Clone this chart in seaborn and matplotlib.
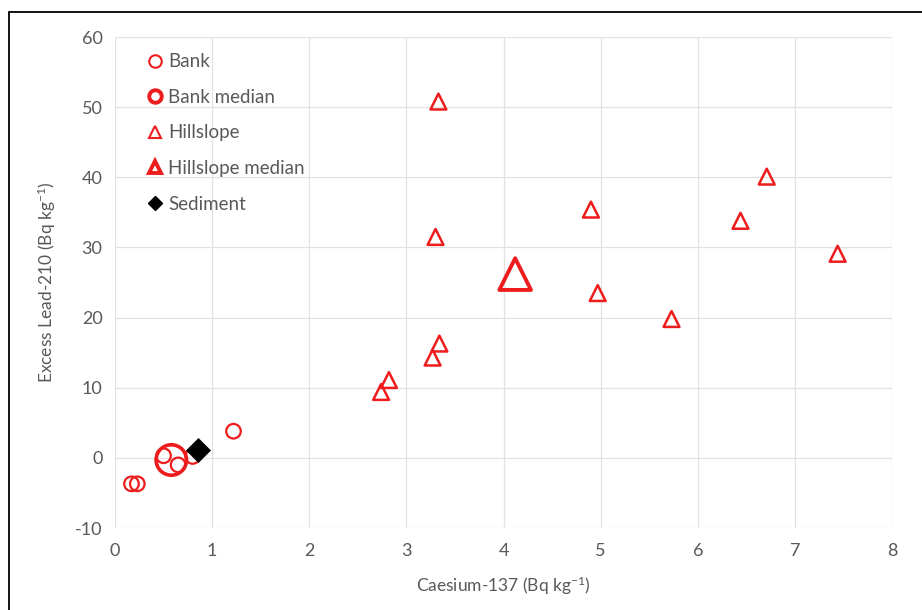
import matplotlib
matplotlib.use("Agg")
import matplotlib.pyplot as plt
from matplotlib.lines import Line2D
import seaborn as sns
import pandas as pd

# Bank soil samples (Cs-137, excess Pb-210)
bank_cs = [0.17, 0.23, 0.50, 0.65, 0.80, 1.22]
bank_pb = [-3.7, -3.7, 0.3, -1.0, 0.2, 3.8]
bank_median_cs = [0.58]
bank_median_pb = [-0.3]

# Hillslope soil samples
hill_cs = [3.33, 3.30, 4.90, 6.71, 6.44, 4.97, 7.44, 5.73, 3.34, 3.27, 2.82, 2.74]
hill_pb = [50.8, 31.5, 35.4, 40.1, 33.8, 23.5, 29.1, 19.8, 16.3, 14.3, 11.1, 9.4]
hill_median_cs = [4.12]
hill_median_pb = [26.2]

# Suspended sediment
sed_cs = [0.855]
sed_pb = [1.15]

x_ticks = [0, 1, 2, 3, 4, 5, 6, 7, 8]
y_ticks = [-10, 0, 10, 20, 30, 40, 50, 60]

RED = "#ee1c1c"
GREY = "#595959"

sns.set_theme(style="whitegrid")
plt.rcParams["font.family"] = ["Lato", "DejaVu Sans"]
plt.rcParams["mathtext.fontset"] = "custom"
plt.rcParams["mathtext.rm"] = "Lato"
plt.rcParams["mathtext.it"] = "Lato:italic"
plt.rcParams["axes.unicode_minus"] = False

fig = plt.figure(figsize=(9.22, 6.10), dpi=100)
ax = fig.add_axes([0.1247, 0.1344, 0.9675 - 0.1247, 0.9393 - 0.1344])

bank = pd.DataFrame({"cs": bank_cs, "pb": bank_pb})
bank_med = pd.DataFrame({"cs": bank_median_cs, "pb": bank_median_pb})
hill = pd.DataFrame({"cs": hill_cs, "pb": hill_pb})
hill_med = pd.DataFrame({"cs": hill_median_cs, "pb": hill_median_pb})
sed = pd.DataFrame({"cs": sed_cs, "pb": sed_pb})

sns.scatterplot(data=bank, x="cs", y="pb", marker="o", s=110,
                facecolors="none", edgecolors=RED, linewidths=1.6, ax=ax, zorder=3)
sns.scatterplot(data=bank_med, x="cs", y="pb", marker="o", s=480,
                facecolors="none", edgecolors=RED, linewidths=2.6, ax=ax, zorder=3)
sns.scatterplot(data=hill, x="cs", y="pb", marker="^", s=130,
                facecolors="none", edgecolors=RED, linewidths=1.8, ax=ax, zorder=3)
sns.scatterplot(data=hill_med, x="cs", y="pb", marker="^", s=520,
                facecolors="none", edgecolors=RED, linewidths=2.8, ax=ax, zorder=3)
sns.scatterplot(data=sed, x="cs", y="pb", marker="D", s=150,
                color="black", edgecolor="black", linewidth=0.5, ax=ax, zorder=4)

ax.set_xlim(0, 8)
ax.set_ylim(-10, 60)
ax.set_xticks(x_ticks)
ax.set_yticks(y_ticks)
ax.grid(True, color="#e2e2e2", linewidth=0.9)
for s in ax.spines.values():
    s.set_visible(False)
ax.tick_params(axis="both", length=0, labelsize=13, colors=GREY)
ax.tick_params(axis="x", pad=11)
ax.tick_params(axis="y", pad=9)

ax.set_xlabel(r"Caesium-137 (Bq kg$^{\mathregular{-1}}$)", fontsize=12.5, color=GREY, labelpad=11)
ax.set_ylabel(r"Excess Lead-210 (Bq kg$^{\mathregular{-1}}$)", fontsize=12.5, color=GREY, labelpad=12)

handles = [
    Line2D([], [], linestyle="none", marker="o", markersize=9, markerfacecolor="none",
           markeredgecolor=RED, markeredgewidth=1.5, label="Bank"),
    Line2D([], [], linestyle="none", marker="o", markersize=9, markerfacecolor="none",
           markeredgecolor=RED, markeredgewidth=2.8, label="Bank median"),
    Line2D([], [], linestyle="none", marker="^", markersize=9, markerfacecolor="none",
           markeredgecolor=RED, markeredgewidth=1.5, label="Hillslope"),
    Line2D([], [], linestyle="none", marker="^", markersize=9, markerfacecolor="none",
           markeredgecolor=RED, markeredgewidth=2.8, label="Hillslope median"),
    Line2D([], [], linestyle="none", marker="D", markersize=7, markerfacecolor="black",
           markeredgecolor="black", label="Sediment"),
]
leg = ax.legend(handles=handles, loc="upper left", bbox_to_anchor=(0.032, 0.982),
                frameon=False, fontsize=13.5, labelspacing=0.99, handlelength=0.8,
                handletextpad=0.3, borderaxespad=0)
for t in leg.get_texts():
    t.set_color(GREY)

# partial frame along the left and top edges
fig.add_artist(Line2D([0.0098, 0.0098], [0, 0.9803], transform=fig.transFigure,
                      color="black", linewidth=1.3))
fig.add_artist(Line2D([0.0098, 1.0], [0.9803, 0.9803], transform=fig.transFigure,
                      color="black", linewidth=1.3))

fig.savefig("out.png", dpi=100, facecolor="white")
